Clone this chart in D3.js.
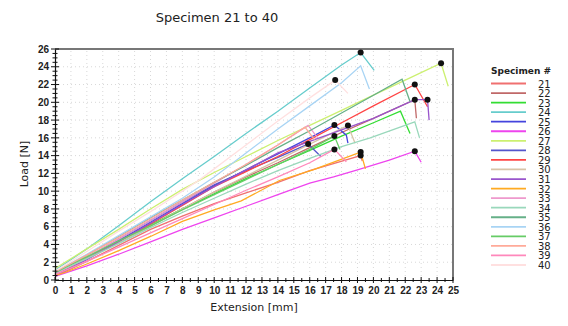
<!DOCTYPE html>
<html><head><meta charset="utf-8">
<script src="https://cdn.jsdelivr.net/npm/d3@7"></script>
<style>
body{margin:0;background:#fff;}
svg{display:block;font-family:"DejaVu Sans",Verdana,sans-serif;}
</style></head>
<body><svg id="c" width="568" height="326"></svg>
<script>
const title = "Specimen 21 to 40";
const xLabel = "Extension [mm]";
const yLabel = "Load [N]";
const legendTitle = "Specimen #";
const specimens = [21,22,23,24,25,26,27,28,29,30,31,32,33,34,35,36,37,38,39,40];
const colors = ["#f07070","#c06868","#33dd33","#66cccc","#4444dd","#ee44ee","#ccf070","#5555cc","#ff4444","#d8c4a8",
                "#9955cc","#ffaa22","#ee99cc","#99d8bb","#66b088","#a8d4f4","#66cc66","#ffaa99","#ff88bb","#ffe0e0"];
// curves: [extension mm, load N] points per specimen
const s21 = [[0,0.4],[2,2.1],[4,3.9],[6,5.7],[8,7.2],[10,8.6],[12,9.8],[14,11.0],[16,12.3],[19.2,14.0],[19.3,13.4]];
const s22 = [[0,0.7],[2,2.4],[4,4.2],[6,6.1],[8,8.0],[10,9.9],[12,11.6],[14,13.2],[16,14.9],[18,16.6],[20,18.2],[22.6,20.3],[22.7,18.2]];
const s23 = [[0,0.9],[2,2.6],[4,4.4],[6,6.2],[8,8.0],[10,9.7],[12,11.4],[14,13.0],[16,14.6],[18,16.2],[20,17.7],[21.7,19.0],[22.3,16.5]];
const s24 = [[0,1.1],[2,3.5],[4,6.1],[6,8.8],[8,11.4],[10,13.9],[12,16.5],[14,19.0],[16,21.6],[18,24.2],[19.2,25.6],[20.05,23.6]];
const s25 = [[0,0.6],[2,2.4],[4,4.4],[6,6.5],[8,8.6],[10,10.6],[12,12.4],[14,14.2],[16,16.0],[17.55,17.45],[18.3,16.3],[18.4,15.4]];
const s26 = [[0,0.4],[2,1.6],[4,2.9],[6,4.3],[8,5.7],[10,7.0],[12,8.3],[14,9.6],[16,10.9],[17.5,11.6],[19,12.4],[21,13.5],[22.6,14.5],[23.0,13.25]];
const s27 = [[0,1.3],[2,3.5],[4,5.7],[6,8.0],[8,10.2],[10,12.1],[12,13.9],[14,15.7],[16,17.4],[18,19.1],[20,20.8],[22,22.5],[24.25,24.4],[24.7,21.8]];
const s28 = [[0,0.5],[2,2.5],[4,4.6],[6,6.7],[8,8.8],[10,10.7],[12,12.3],[14,13.8],[15.9,15.3],[16.7,13.9]];
const s29 = [[0,0.6],[2,2.4],[4,4.3],[6,6.3],[8,8.4],[10,10.5],[12,12.2],[14,13.9],[16,15.8],[18,17.7],[20,19.6],[22.6,22.0],[23.4,19.5]];
const s30 = [[0,0.7],[2,2.4],[4,4.2],[6,6.1],[8,8.0],[10,9.9],[12,11.7],[14,13.5],[16,15.3],[18.4,17.4],[18.85,15.4]];
const s31 = [[0,0.5],[2,2.3],[4,4.3],[6,6.4],[8,8.5],[10,10.5],[12,12.4],[14,14.3],[16,15.6],[18,16.9],[20,18.2],[22.6,20.3],[23.4,20.3],[23.5,18.0]];
const s32 = [[0,0.5],[0.7,0.9],[2,1.8],[4,3.3],[6,4.9],[8,6.6],[10,7.9],[11.7,8.9],[14.1,11.2],[16.2,12.4],[19.2,14.4],[19.5,12.5]];
const s33 = [[0,0.7],[2,2.6],[4,4.6],[6,6.7],[8,8.8],[10,10.9],[12,13.0],[14,15.2],[15.9,17.4],[16.5,16.0]];
const s34 = [[0,0.8],[2,2.4],[4,4.1],[6,5.9],[8,7.6],[10,9.2],[12,10.8],[14,12.3],[16,13.7],[18,15.0],[19.8,16.0],[22.6,17.8],[22.9,16.0]];
const s35 = [[0,0.8],[2,2.8],[4,4.9],[6,7.0],[8,9.0],[10,11.0],[12,12.9],[14,14.9],[16,16.8],[18,18.8],[20,20.8],[21.8,22.6],[22.3,20.1]];
const s36 = [[0,0.9],[2,2.9],[4,5.0],[6,7.1],[8,9.2],[10,11.6],[12,14.3],[14,17.0],[16,19.6],[18,22.2],[19.2,24.1],[19.75,21.5]];
const s37 = [[0,0.9],[2,2.6],[4,4.4],[6,6.1],[8,7.9],[10,9.6],[12,11.3],[14,13.0],[16,14.7],[17.55,16.2],[17.9,14.7]];
const s38 = [[0,0.9],[2,2.8],[4,4.8],[6,6.9],[8,9.0],[10,11.0],[12,13.0],[14,15.2],[15.7,17.2],[16.3,15.8]];
const s39 = [[0,0.6],[2,2.1],[4,3.7],[6,5.3],[8,6.9],[10,8.5],[12,10.1],[14,11.6],[16,13.2],[17.55,14.7],[18.3,13.3]];
const s40 = [[0,1.0],[2,3.2],[4,5.5],[6,7.7],[8,10.0],[9.1,11.3],[12,15.2],[14,17.9],[16,20.5],[17.6,22.5],[18.4,21.0]];
const curves = [s21,s22,s23,s24,s25,s26,s27,s28,s29,s30,s31,s32,s33,s34,s35,s36,s37,s38,s39,s40];
// break points marked with a dot: [extension, load]
const breakDots = [[19.2,25.6],[17.6,22.5],[24.25,24.4],[22.6,22.0],[22.6,20.3],[23.4,20.3],[22.6,14.5],
                   [17.55,17.45],[18.4,17.4],[17.55,16.2],[15.9,15.3],[17.55,14.7],[19.2,14.4],[19.2,14.0]];
const xTickValues = d3.range(0,26,1);
const yTickValues = d3.range(0,27,2);

const svg = d3.select("#c");
const x = d3.scaleLinear().domain([0,25]).range([55,453]);
const y = d3.scaleLinear().domain([0,26]).range([280,49]);

// grid
const g = svg.append("g");
g.selectAll(".gv").data(d3.range(1,25,1)).join("line")
  .attr("x1",d=>x(d)).attr("x2",d=>x(d)).attr("y1",y(0)).attr("y2",y(26))
  .attr("stroke","#d8d8d8").attr("stroke-width",1).attr("stroke-dasharray","1,3");
g.selectAll(".gh").data(d3.range(2,26,2)).join("line")
  .attr("x1",x(0)).attr("x2",x(25)).attr("y1",d=>y(d)).attr("y2",d=>y(d))
  .attr("stroke","#d8d8d8").attr("stroke-width",1).attr("stroke-dasharray","1,3");

// frame top/right
svg.append("line").attr("x1",x(0)).attr("x2",x(25)+1).attr("y1",y(26)).attr("y2",y(26)).attr("stroke","#777").attr("stroke-width",2);
svg.append("line").attr("x1",x(25)).attr("x2",x(25)).attr("y1",y(26)).attr("y2",y(0)).attr("stroke","#777").attr("stroke-width",2);

// series
const line = d3.line().x(d=>x(d[0])).y(d=>y(d[1]));
svg.append("g").selectAll("path").data(curves).join("path")
  .attr("d",line).attr("fill","none").attr("stroke",(d,i)=>colors[i]).attr("stroke-width",1.3);

// dots
svg.append("g").selectAll("circle").data(breakDots).join("circle")
  .attr("cx",d=>x(d[0])).attr("cy",d=>y(d[1])).attr("r",3).attr("fill","#111");

// axes
const xAxis = d3.axisBottom(x).tickValues(xTickValues).tickSize(0).tickPadding(7);
const xa = svg.append("g").attr("transform",`translate(0,${y(0)})`).call(xAxis);
xa.select(".domain").attr("stroke","#111").attr("stroke-width",1.2);
xa.selectAll("text").attr("font-size",10).attr("fill","#222").attr("font-weight","bold");
const yAxis = d3.axisLeft(y).tickValues(yTickValues).tickSize(0).tickPadding(6);
const ya = svg.append("g").attr("transform",`translate(${x(0)},0)`).call(yAxis);
ya.select(".domain").attr("stroke","#111").attr("stroke-width",1.2);
ya.selectAll("text").attr("font-size",10).attr("fill","#222").attr("font-weight","bold");
// cross ticks
svg.append("g").selectAll("line").data(d3.range(0,25.01,0.5)).join("line")
  .attr("x1",d=>x(d)).attr("x2",d=>x(d)).attr("y1",d=>y(0)-(d%1===0?3:2)).attr("y2",d=>y(0)+(d%1===0?3:2))
  .attr("stroke","#111").attr("stroke-width",1);
svg.append("g").selectAll("line").data(d3.range(0,26.01,0.5)).join("line")
  .attr("y1",d=>y(d)).attr("y2",d=>y(d)).attr("x1",d=>x(0)-(d%2===0?4:2.5)).attr("x2",d=>x(0)+(d%2===0?4:2.5))
  .attr("stroke","#111").attr("stroke-width",1);

// labels
svg.append("text").attr("x",217).attr("y",22).attr("text-anchor","middle").attr("font-size",13).attr("fill","#222").text(title);
svg.append("text").attr("x",254).attr("y",311).attr("text-anchor","middle").attr("font-size",11).attr("fill","#222").text(xLabel);
svg.append("text").attr("transform","translate(28,164) rotate(-90)").attr("text-anchor","middle").attr("font-size",11).attr("fill","#222").text(yLabel);

// legend
const lg = svg.append("g");
lg.append("text").attr("x",491).attr("y",74).attr("font-size",9).attr("font-weight","bold").attr("fill","#222").text(legendTitle);
const ly = d3.scaleLinear().domain([0,19]).range([83.5,265]);
specimens.forEach((s,i)=>{
  lg.append("line").attr("x1",491).attr("x2",526).attr("y1",ly(i)).attr("y2",ly(i)).attr("stroke",colors[i]).attr("stroke-width",1.8);
  lg.append("text").attr("x",538).attr("y",ly(i)+4).attr("font-size",10).attr("fill","#222").text(s);
});
</script></body></html>
